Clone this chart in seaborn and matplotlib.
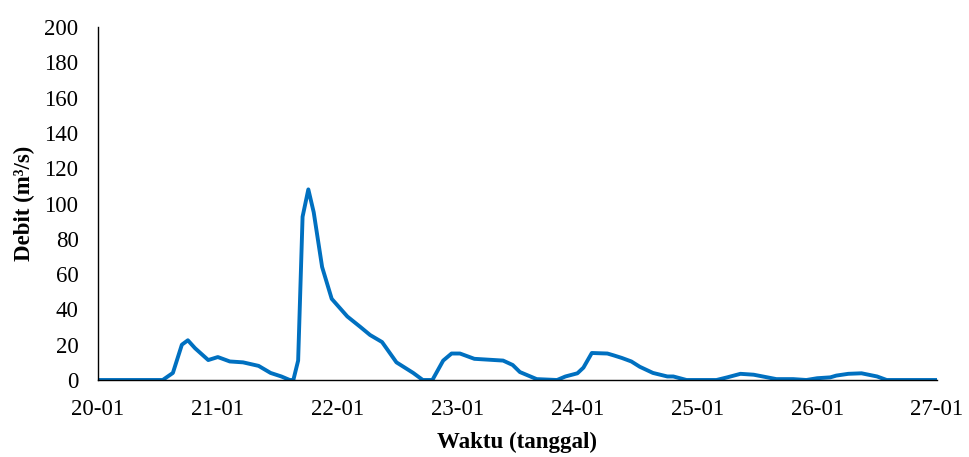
import matplotlib
matplotlib.use("Agg")
import matplotlib.pyplot as plt
import seaborn as sns

# Data: time in days since 20-01, discharge in m3/s
days = [0, 0.54, 0.625, 0.70, 0.75, 0.81, 0.92, 1.0, 1.1, 1.21, 1.34, 1.44, 1.53,
        1.6, 1.63, 1.67, 1.707, 1.755, 1.80, 1.87, 1.95, 2.08, 2.19, 2.27, 2.37,
        2.49, 2.63, 2.71, 2.79, 2.88, 2.95, 3.02, 3.14, 3.38, 3.46, 3.52, 3.66,
        3.83, 3.9, 4.0, 4.05, 4.12, 4.25, 4.30, 4.37, 4.45, 4.52, 4.63, 4.75,
        4.80, 4.91, 5.16, 5.25, 5.36, 5.47, 5.66, 5.8, 5.91, 6.0, 6.11, 6.16,
        6.26, 6.37, 6.5, 6.58, 7.0]
debit = [0, 0, 4, 20, 22.5, 18, 11.3, 13, 10.5, 10, 8, 4, 2,
         0, 0, 11, 92.5, 108, 95, 64, 46, 36, 30, 25.5, 21.5,
         10, 4, 0, 0, 11, 15, 15, 12, 11, 8.5, 4.5, 0.5,
         0, 2, 3.8, 7, 15.3, 15, 14, 12.5, 10.5, 7.5, 4, 2,
         2, 0, 0, 1.5, 3.5, 3, 0.5, 0.5, 0, 1, 1.5, 2.5,
         3.5, 3.8, 2, 0, 0]
tick_pos = [0, 1, 2, 3, 4, 5, 6, 7]
tick_labels = ["20-01", "21-01", "22-01", "23-01", "24-01", "25-01", "26-01", "27-01"]

sns.set_theme(style="white")
plt.rcParams["font.family"] = ["Liberation Serif", "DejaVu Serif"]

fig = plt.figure(figsize=(9.69, 4.57), dpi=100)
ax = fig.add_axes([0.1011, 0.1685, 0.8659, 0.7724])

sns.lineplot(x=days, y=debit, ax=ax, color="#0070C0", linewidth=2.8)

ax.set_xlim(0, 7)
ax.set_ylim(0, 200)
ax.set_xticks(tick_pos)
ax.set_xticklabels(tick_labels)
ax.set_yticks(range(0, 201, 20))
ax.tick_params(axis="both", length=0, labelsize=16.5, colors="black")
ax.tick_params(axis="x", pad=14)
ax.tick_params(axis="y", pad=14)

for side in ["top", "right"]:
    ax.spines[side].set_visible(False)
for side in ["left", "bottom"]:
    ax.spines[side].set_color("black")
    ax.spines[side].set_linewidth(1.0)

ax.set_xlabel("Waktu (tanggal)", fontsize=16.5, fontweight="bold", labelpad=8, color="black")
ax.set_ylabel("Debit (m³/s)", fontsize=16.5, fontweight="bold", labelpad=6.5, color="black")

fig.savefig("out.png", dpi=100)
plt.close()
